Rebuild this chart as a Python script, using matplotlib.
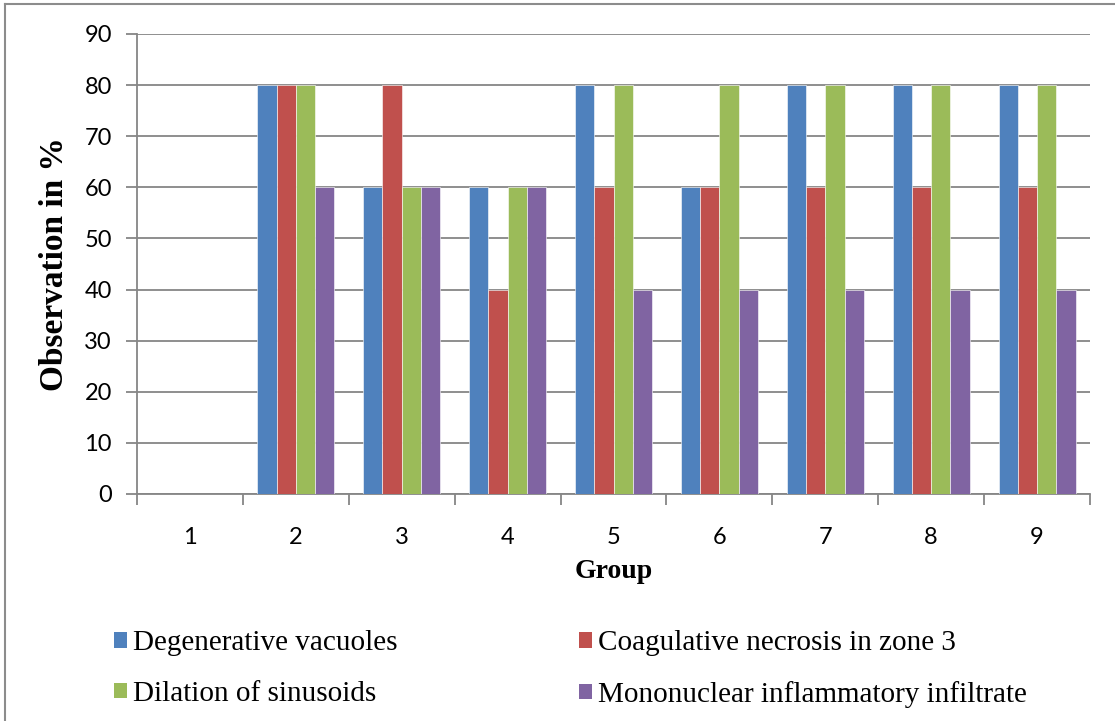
import numpy as np
import matplotlib
matplotlib.use("Agg")
import matplotlib.pyplot as plt
from matplotlib.lines import Line2D
from matplotlib.patches import Patch

groups = ["1", "2", "3", "4", "5", "6", "7", "8", "9"]
series_names = ["Degenerative vacuoles", "Coagulative necrosis in zone 3",
                "Dilation of sinusoids", "Mononuclear inflammatory infiltrate"]
degenerative = [0, 80, 60, 60, 80, 60, 80, 80, 80]
coagulative = [0, 80, 80, 40, 60, 60, 60, 60, 60]
dilation = [0, 80, 60, 60, 80, 80, 80, 80, 80]
mononuclear = [0, 60, 60, 60, 40, 40, 40, 40, 40]
colors = ["#4F81BD", "#C0504D", "#9BBB59", "#8064A2"]

W, H = 1115, 721
fig = plt.figure(figsize=(W / 100, H / 100), dpi=100)
ax = fig.add_axes([137 / W, 1 - 494 / H, (1090 - 137) / W, (494 - 34) / H])

grid_col = "#868686"
x = np.arange(1, len(groups) + 1)
w = 1 / (4 + 1.5)
data = [degenerative, coagulative, dilation, mononuclear]
for i, vals in enumerate(data):
    ax.bar(x + (i - 1.5) * w, vals, width=w, color=colors[i],
           edgecolor="white", linewidth=0.4, zorder=3)

ax.set_xlim(0.5, 9.5)
ax.set_ylim(0, 90)
ax.set_yticks(np.arange(0, 91, 10))
ax.yaxis.grid(True, color=grid_col, linewidth=1.3, zorder=0)
ax.set_xticks(x)
ax.set_xticklabels(groups)
ax.set_xticks(np.arange(0.5, 10, 1), minor=True)
ax.tick_params(axis="x", which="major", length=0, pad=24)
ax.tick_params(axis="x", which="minor", length=8, width=1.3, color=grid_col, direction="out")
ax.tick_params(axis="y", length=8, width=1.3, color=grid_col, pad=10)
for lab in ax.get_xticklabels() + ax.get_yticklabels():
    lab.set_fontfamily("Lato")
    lab.set_fontsize(17)

for s in ["top", "right"]:
    ax.spines[s].set_visible(False)
for s in ["left", "bottom"]:
    ax.spines[s].set_color(grid_col)
    ax.spines[s].set_linewidth(1.3)

ax.set_ylabel("Observation in %", family="Liberation Serif", weight="bold",
              fontsize=24, labelpad=10)
ax.set_xlabel("Group", family="Liberation Serif", weight="bold",
              fontsize=20, labelpad=8)

# legend filled row by row
order = [0, 2, 1, 3]
handles = [Patch(facecolor=colors[k], edgecolor="none") for k in order]
labels = [series_names[k] for k in order]
leg = fig.legend(handles, labels, loc="upper left",
                 bbox_to_anchor=(88 / W, 1 - 604 / H), ncol=2,
                 frameon=False, handlelength=0.45, handleheight=0.45,
                 handletextpad=0.2, columnspacing=6.2, labelspacing=0.85,
                 prop={"family": "Liberation Serif", "size": 21})

# outer chart frame
fig.add_artist(Line2D([5 / W, 1], [1 - 4 / H, 1 - 4 / H], color="#8c8c8c", linewidth=1.5))
fig.add_artist(Line2D([5 / W, 5 / W], [0, 1 - 4 / H], color="#8c8c8c", linewidth=1.5))

fig.savefig("out.png", dpi=100)
